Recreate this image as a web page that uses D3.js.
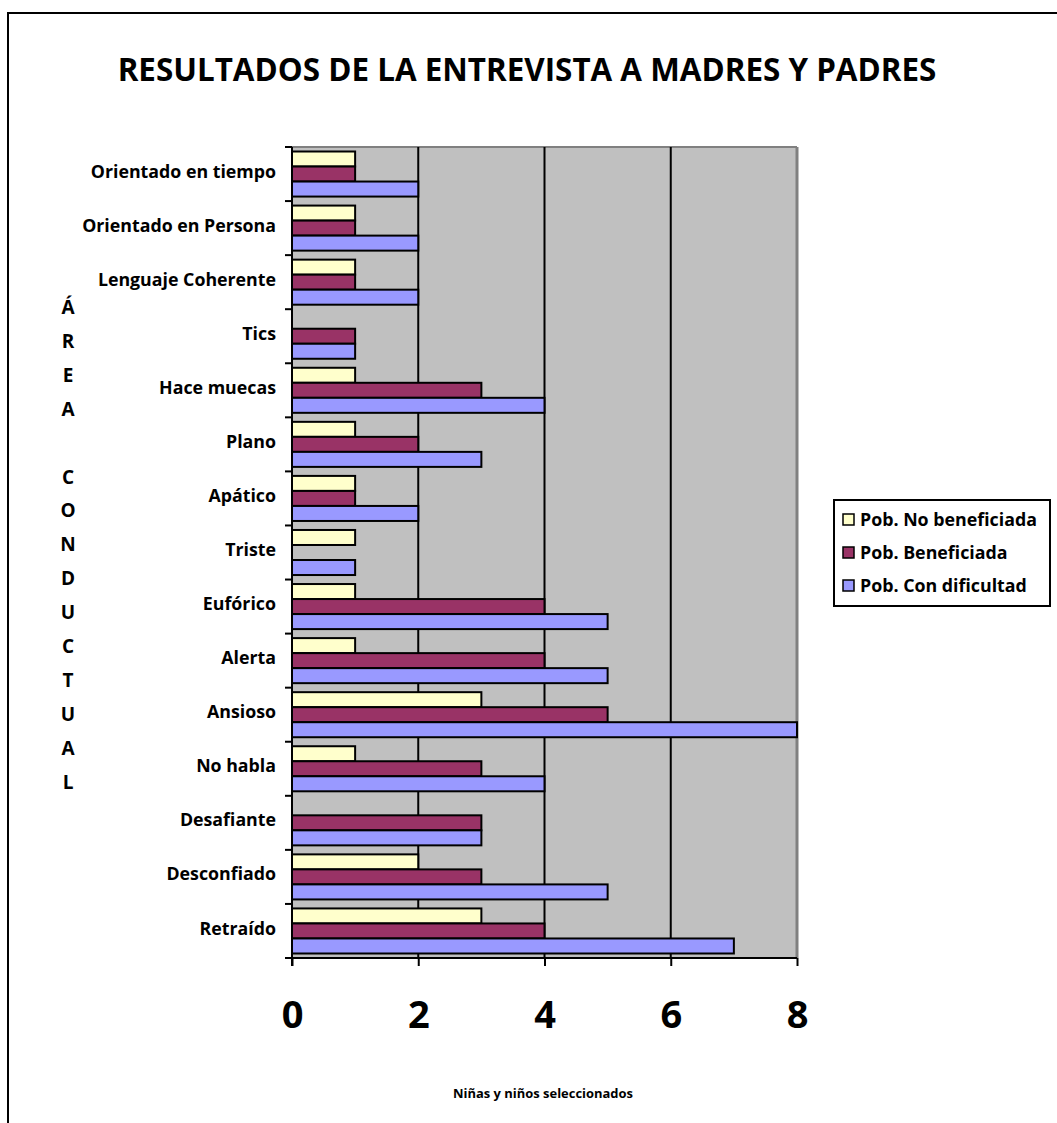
<!DOCTYPE html>
<html><head><meta charset="utf-8">
<script src="https://cdn.jsdelivr.net/npm/d3@7"></script>
<style>
html,body{margin:0;padding:0;background:#fff;}
svg{display:block;font-family:"Open Sans",sans-serif;font-weight:bold;}
</style></head>
<body><svg id="c" width="1057" height="1123"></svg>
<script>
const categories = ["Orientado en tiempo","Orientado en Persona","Lenguaje Coherente","Tics","Hace muecas","Plano","Apático","Triste","Eufórico","Alerta","Ansioso","No habla","Desafiante","Desconfiado","Retraído"];
const seriesNames = ["Pob. No beneficiada","Pob. Beneficiada","Pob. Con dificultad"];
const noBeneficiada = [1,1,1,0,1,1,1,1,1,1,3,1,0,2,3];
const beneficiada   = [1,1,1,1,3,2,1,0,4,4,5,3,3,3,4];
const conDificultad = [2,2,2,1,4,3,2,1,5,5,8,4,3,5,7];
const xTicks = [0,2,4,6,8];
const colors = ["#FFFFCC","#993366","#9999FF"];
const yTitleLetters = ["Á","R","E","A","","C","O","N","D","U","C","T","U","A","L"];

const svg = d3.select("#c");
const L = 292, R = 797, T = 147, B = 958;

// measure helper: font size so that a given string reaches target width
function fitSize(str, target){
  const t = svg.append("text").attr("font-size",100).text(str);
  const w = t.node().getComputedTextLength();
  t.remove();
  return 100*target/w;
}

// outer frame
svg.append("rect").attr("x",8).attr("y",13).attr("width",1100).attr("height",1200)
  .attr("fill","none").attr("stroke","#000").attr("stroke-width",2);

// title
const titleText = "RESULTADOS DE LA ENTREVISTA A MADRES Y PADRES";
svg.append("text").attr("x",527).attr("y",81).attr("text-anchor","middle")
  .attr("font-size",fitSize(titleText,819)).text(titleText);

const x = d3.scaleLinear().domain([0,8]).range([L,R]);
const y = d3.scaleBand().domain(categories).range([T,B]).padding(0);
const yi = d3.scaleBand().domain(d3.range(3)).range([0,y.bandwidth()]).paddingInner(0).paddingOuter(0.3);

// plot background
svg.append("rect").attr("x",L).attr("y",T).attr("width",R-L).attr("height",B-T).attr("fill","#C0C0C0");
svg.append("line").attr("x1",L).attr("x2",R).attr("y1",T).attr("y2",T).attr("stroke","#808080").attr("stroke-width",2);
svg.append("line").attr("x1",R).attr("x2",R).attr("y1",T).attr("y2",B).attr("stroke","#808080").attr("stroke-width",3);

// gridlines
svg.append("g").selectAll("line").data(xTicks.filter(d=>d>0&&d<8)).join("line")
  .attr("x1",d=>x(d)).attr("x2",d=>x(d)).attr("y1",T).attr("y2",B)
  .attr("stroke","#000").attr("stroke-width",2);

// bars
const data = categories.map((c,i)=>({c, v:[noBeneficiada[i],beneficiada[i],conDificultad[i]]}));
const g = svg.append("g");
data.forEach(d=>{
  d.v.forEach((v,k)=>{
    if (v<=0) return;
    g.append("rect").attr("x",x(0)).attr("y",y(d.c)+yi(k))
      .attr("width",x(v)-x(0)).attr("height",yi.bandwidth())
      .attr("fill",colors[k]).attr("stroke","#000").attr("stroke-width",2);
  });
});

// y axis line and ticks
svg.append("line").attr("x1",L).attr("x2",L).attr("y1",T).attr("y2",B+8).attr("stroke","#000").attr("stroke-width",2);
const bounds = categories.map(c=>y(c)).concat([B]);
svg.append("g").selectAll("line").data(bounds).join("line")
  .attr("x1",L-7).attr("x2",L).attr("y1",d=>d).attr("y2",d=>d).attr("stroke","#000").attr("stroke-width",2);
// category labels
const catSize = fitSize("Orientado en Persona",194);
const yAxis = d3.axisLeft(y).tickSize(0).tickPadding(16);
const ya = svg.append("g").attr("transform",`translate(${L},0)`).call(yAxis);
ya.select(".domain").remove();
ya.selectAll("text").attr("font-size",catSize).attr("font-family","Open Sans").attr("font-weight","bold").attr("fill","#000").attr("dy","0.2em");

// x axis
svg.append("line").attr("x1",L-1).attr("x2",R).attr("y1",B).attr("y2",B).attr("stroke","#000").attr("stroke-width",2);
const xAxis = d3.axisBottom(x).tickValues(xTicks).tickSize(8);
const xa = svg.append("g").attr("transform",`translate(0,${B})`).call(xAxis);
xa.select(".domain").remove();
xa.selectAll(".tick line").attr("stroke","#000").attr("stroke-width",2);
xa.selectAll("text").attr("y",70).attr("dy",0).attr("font-size",38).attr("font-family","Open Sans").attr("font-weight","bold").attr("fill","#000");

// x title
const xTitle = "Niñas y niños seleccionados";
svg.append("text").attr("x",543).attr("y",1098).attr("text-anchor","middle").attr("font-size",fitSize(xTitle,180)).text(xTitle);

// y title letters
svg.append("g").selectAll("text").data(yTitleLetters).join("text")
  .attr("x",68).attr("y",(d,i)=>314+i*33.9).attr("text-anchor","middle").attr("font-size",19).text(d=>d);

// legend
const lgSize = fitSize("Pob. No beneficiada",177);
const lg = svg.append("g");
lg.append("rect").attr("x",834).attr("y",500).attr("width",216).attr("height",106).attr("fill","#fff").attr("stroke","#000").attr("stroke-width",2);
seriesNames.forEach((n,k)=>{
  const yy = 520 + k*33;
  lg.append("rect").attr("x",843).attr("y",yy-6).attr("width",11).attr("height",11).attr("fill",colors[k]).attr("stroke","#000").attr("stroke-width",1.5);
  lg.append("text").attr("x",860).attr("y",yy+6).attr("font-size",lgSize).text(n);
});
</script></body></html>
